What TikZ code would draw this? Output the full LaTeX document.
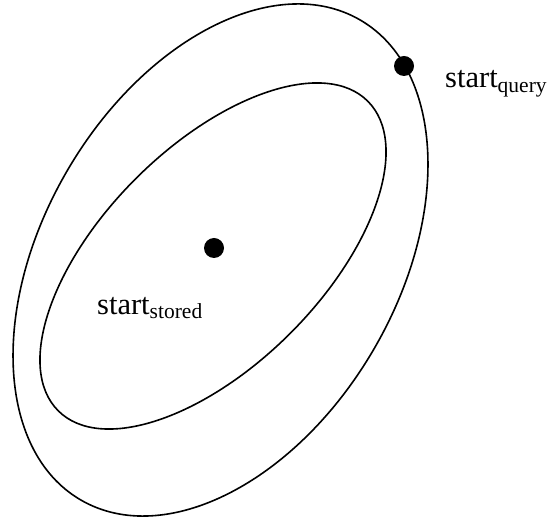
\documentclass[tikz,border=0pt]{standalone}
\usepackage{fontspec}
\setmainfont{Liberation Serif}
\begin{document}
\begin{tikzpicture}[x=1pt,y=1pt,
  dotmark/.style={circle,fill=black,inner sep=0pt,minimum size=20pt},
  lbl/.style={anchor=base west,inner sep=0pt},
  curve/.style={line width=1.6pt}]
\useasboundingbox (0,0) rectangle (553,521);
\draw[curve,rotate around={59.76:(220.5,261)}] (220.5,261) ellipse [x radius=277.7,y radius=177.4];
\draw[curve,rotate around={45:(213,265)}] (213,265) ellipse [x radius=218.9,y radius=109.3];
\node[dotmark] (q) at (404,455) {};
\node[dotmark] (s) at (214,273) {};
\node[lbl] (ql) at (445,433) {\fontsize{30.5}{31}\selectfont start\raisebox{-5pt}{\fontsize{21.5}{22}\selectfont query}};
\node[lbl] (sl) at (97,206) {\fontsize{30.5}{31}\selectfont start\raisebox{-4pt}{\fontsize{21.5}{22}\selectfont stored}};
\end{tikzpicture}
\end{document}
